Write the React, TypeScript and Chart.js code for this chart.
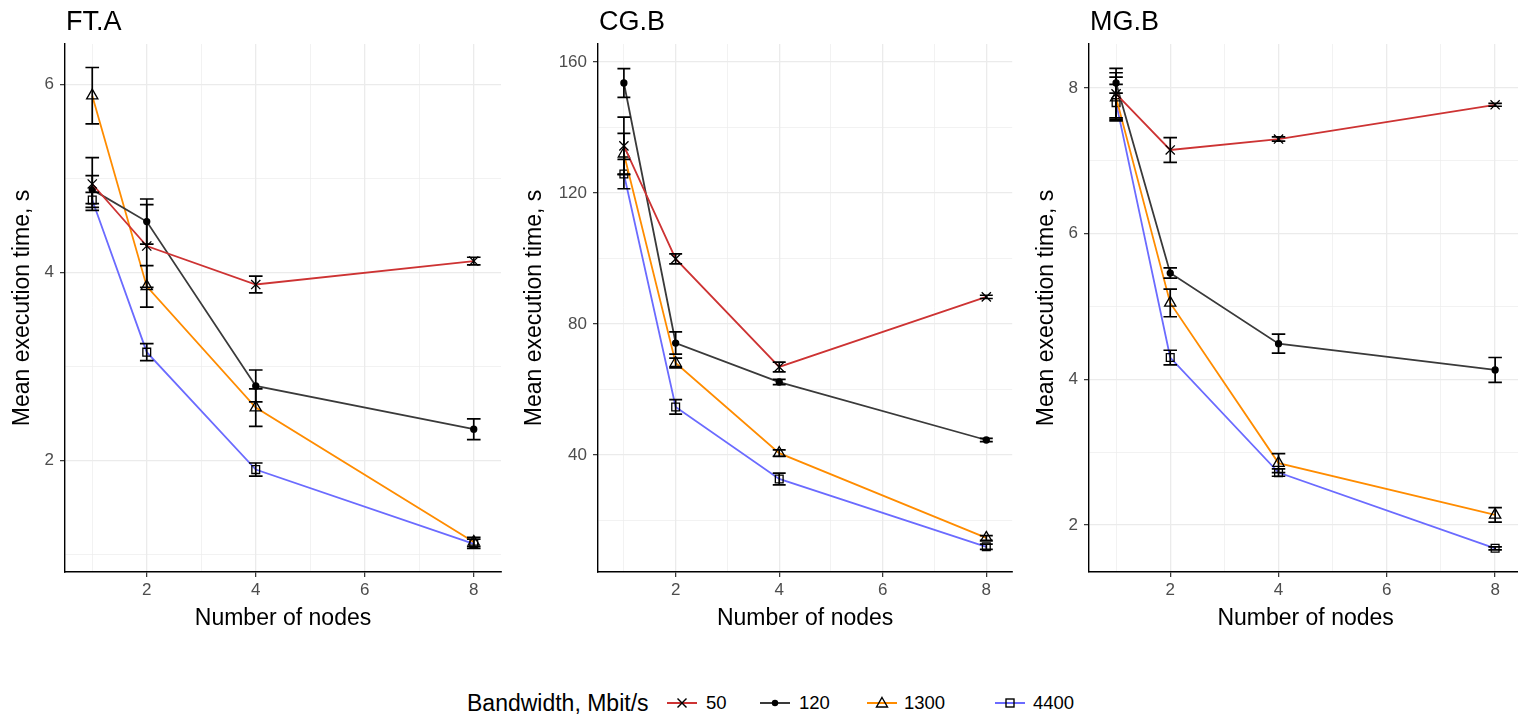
import React, { useEffect, useRef } from 'react';
import { Chart, registerables } from 'chart.js';

Chart.register(...registerables);

// ---------- data ----------
const nodes = [1, 2, 4, 8];
const bandwidthLabels = ['50', '120', '1300', '4400'];
const seriesColors = ['#cd3333', '#3a3a3a', '#ff8c00', '#6b6bff'];

const xTicksAll = [1, 2, 3, 4, 5, 6, 7, 8];
const xTicksMajor = [2, 4, 6, 8];

// FT.A
const ftA_50 = [4.94, 4.28, 3.87, 4.12];
const ftA_50_err = [0.28, 0.44, 0.09, 0.04];
const ftA_120 = [4.88, 4.54, 2.79, 2.33];
const ftA_120_err = [0.15, 0.24, 0.17, 0.11];
const ftA_1300 = [5.88, 3.85, 2.56, 1.13];
const ftA_1300_err = [0.3, 0.22, 0.2, 0.05];
const ftA_4400 = [4.77, 3.15, 1.9, 1.11];
const ftA_4400_err = [0.08, 0.09, 0.07, 0.05];
const ftA_yTicks = [1, 2, 3, 4, 5, 6];
const ftA_yMajor = [2, 4, 6];

// CG.B
const cgB_50 = [134.4, 99.9, 66.9, 88.3];
const cgB_50_err = [8.8, 1.5, 1.5, 0.5];
const cgB_120 = [153.6, 74.2, 62.3, 44.6];
const cgB_120_err = [4.4, 3.4, 0.8, 0.5];
const cgB_1300 = [132.0, 68.1, 40.6, 14.7];
const cgB_1300_err = [6.2, 1.5, 1.0, 0.7];
const cgB_4400 = [125.8, 54.7, 32.7, 12.0];
const cgB_4400_err = [4.5, 2.2, 1.8, 0.8];
const cgB_yTicks = [20, 40, 60, 80, 100, 120, 140, 160];
const cgB_yMajor = [40, 80, 120, 160];

// MG.B
const mgB_50 = [7.92, 7.15, 7.3, 7.77];
const mgB_50_err = [0.35, 0.17, 0.03, 0.02];
const mgB_120 = [8.07, 5.46, 4.49, 4.13];
const mgB_120_err = [0.14, 0.07, 0.13, 0.17];
const mgB_1300 = [7.87, 5.05, 2.85, 2.14];
const mgB_1300_err = [0.28, 0.19, 0.13, 0.1];
const mgB_4400 = [7.8, 4.3, 2.72, 1.68];
const mgB_4400_err = [0.25, 0.1, 0.05, 0.02];
const mgB_yTicks = [2, 3, 4, 5, 6, 7, 8];
const mgB_yMajor = [2, 4, 6, 8];

// ---------- styling ----------
const FONT = '"Liberation Sans", Arial, Helvetica, sans-serif';
const pointStyles = ['crossRot', 'circle', 'triangle', 'rect'];
const pointRadii = [6.5, 3, 6.5, 5.5];
const pointFills = ['rgba(0,0,0,0)', '#000', 'rgba(0,0,0,0)', 'rgba(0,0,0,0)'];

type Panel = {
  title: string;
  means: number[][];
  errs: number[][];
  yMin: number;
  yMax: number;
  yTicks: number[];
  yMajor: number[];
  left: number;
  yAxisWidth: number;
  padRight: number;
  yTitlePad: number;
};

const panels: Panel[] = [
  {
    title: 'FT.A',
    means: [ftA_50, ftA_120, ftA_1300, ftA_4400],
    errs: [ftA_50_err, ftA_120_err, ftA_1300_err, ftA_4400_err],
    yMin: 0.81, yMax: 6.43, yTicks: ftA_yTicks, yMajor: ftA_yMajor,
    left: 0, yAxisWidth: 65, padRight: 9, yTitlePad: 9,
  },
  {
    title: 'CG.B',
    means: [cgB_50, cgB_120, cgB_1300, cgB_4400],
    errs: [cgB_50_err, cgB_120_err, cgB_1300_err, cgB_4400_err],
    yMin: 4.3, yMax: 165.5, yTicks: cgB_yTicks, yMajor: cgB_yMajor,
    left: 510, yAxisWidth: 88, padRight: 7, yTitlePad: 11,
  },
  {
    title: 'MG.B',
    means: [mgB_50, mgB_120, mgB_1300, mgB_4400],
    errs: [mgB_50_err, mgB_120_err, mgB_1300_err, mgB_4400_err],
    yMin: 1.355, yMax: 8.605, yTicks: mgB_yTicks, yMajor: mgB_yMajor,
    left: 1020, yAxisWidth: 69, padRight: 5, yTitlePad: 13,
  },
];

const CANVAS_W = 510;
const CANVAS_H = 650;

const errorBarPlugin = {
  id: 'errorBars',
  afterDatasetsDraw(chart: any) {
    const { ctx } = chart;
    const xs = chart.scales.x;
    const ys = chart.scales.y;
    ctx.save();
    ctx.strokeStyle = '#000';
    ctx.lineWidth = 1.7;
    chart.data.datasets.forEach((ds: any) => {
      ds.data.forEach((p: any, i: number) => {
        const e = ds.errors[i];
        const x = xs.getPixelForValue(p.x);
        const x0 = xs.getPixelForValue(p.x - 0.125);
        const x1 = xs.getPixelForValue(p.x + 0.125);
        const yT = ys.getPixelForValue(p.y + e);
        const yB = ys.getPixelForValue(p.y - e);
        ctx.beginPath();
        ctx.moveTo(x0, yT); ctx.lineTo(x1, yT);
        ctx.moveTo(x, yT); ctx.lineTo(x, yB);
        ctx.moveTo(x0, yB); ctx.lineTo(x1, yB);
        ctx.stroke();
      });
    });
    ctx.restore();
  },
};

const panelTitlePlugin = {
  id: 'panelTitle',
  afterDraw(chart: any, _args: any, opts: any) {
    const { ctx, chartArea } = chart;
    ctx.save();
    ctx.fillStyle = '#000';
    ctx.font = `27px ${FONT}`;
    ctx.textAlign = 'left';
    ctx.textBaseline = 'alphabetic';
    ctx.fillText(opts.text, chartArea.left + 1, 30);
    ctx.restore();
  },
};

function PanelChart({ p }: { p: Panel }) {
  const ref = useRef<HTMLCanvasElement>(null);
  useEffect(() => {
    if (!ref.current) return;
    const datasets = bandwidthLabels.map((lab, s) => ({
      label: lab,
      data: nodes.map((n, i) => ({ x: n, y: p.means[s][i] })),
      errors: p.errs[s],
      borderColor: seriesColors[s],
      borderWidth: 1.8,
      tension: 0,
      pointStyle: pointStyles[s],
      pointRadius: pointRadii[s],
      pointHoverRadius: pointRadii[s],
      pointBorderColor: '#000',
      pointBackgroundColor: pointFills[s],
      pointBorderWidth: 1.3,
      fill: false,
    }));
    const chart = new Chart(ref.current, {
      type: 'line',
      data: { datasets } as any,
      options: {
        animation: false,
        responsive: false,
        devicePixelRatio: 1,
        layout: { padding: { left: 0, top: 44, right: p.padRight, bottom: 0 } },
        plugins: {
          legend: { display: false },
          tooltip: { enabled: false },
          panelTitle: { text: p.title },
        } as any,
        scales: {
          x: {
            type: 'linear',
            min: 0.5,
            max: 8.5,
            afterBuildTicks: (s: any) => {
              s.ticks = xTicksAll.map((v) => ({ value: v }));
            },
            afterFit: (s: any) => {
              s.height = 78;
            },
            ticks: {
              autoSkip: false,
              maxRotation: 0,
              padding: 3,
              color: '#4d4d4d',
              font: { size: 17, family: FONT },
              callback: (v: any) => (xTicksMajor.includes(Number(v)) ? String(v) : ''),
            },
            grid: {
              color: '#ebebeb',
              lineWidth: (c: any) => (xTicksMajor.includes(c.tick?.value) ? 1.3 : 0.65),
              tickColor: (c: any) => (xTicksMajor.includes(c.tick?.value) ? '#333' : 'rgba(0,0,0,0)'),
              tickLength: 5,
              tickWidth: 1.2,
            },
            border: { display: true, color: '#000', width: 1.4 },
            title: {
              display: true,
              text: 'Number of nodes',
              color: '#000',
              font: { size: 23, family: FONT },
              padding: { top: 0, bottom: 18 },
            },
          },
          y: {
            type: 'linear',
            min: p.yMin,
            max: p.yMax,
            afterBuildTicks: (s: any) => {
              s.ticks = p.yTicks.map((v) => ({ value: v }));
            },
            afterFit: (s: any) => {
              s.width = p.yAxisWidth;
            },
            ticks: {
              autoSkip: false,
              padding: 6,
              color: '#4d4d4d',
              font: { size: 17, family: FONT },
              callback: (v: any) => (p.yMajor.includes(Number(v)) ? String(v) : ''),
            },
            grid: {
              color: '#ebebeb',
              lineWidth: (c: any) => (p.yMajor.includes(c.tick?.value) ? 1.3 : 0.65),
              tickColor: (c: any) => (p.yMajor.includes(c.tick?.value) ? '#333' : 'rgba(0,0,0,0)'),
              tickLength: 5,
              tickWidth: 1.2,
            },
            border: { display: true, color: '#000', width: 1.4 },
            title: {
              display: true,
              text: 'Mean execution time, s',
              color: '#000',
              font: { size: 23, family: FONT },
              padding: { top: p.yTitlePad, bottom: 0 },
            },
          },
        },
      } as any,
      plugins: [errorBarPlugin, panelTitlePlugin],
    });
    return () => chart.destroy();
  }, [p]);
  return (
    <div style={{ position: 'absolute', left: p.left, top: 0, width: CANVAS_W, height: CANVAS_H }}>
      <canvas ref={ref} width={CANVAS_W} height={CANVAS_H} style={{ width: CANVAS_W, height: CANVAS_H, display: 'block' }} />
    </div>
  );
}

function LegendKey({ s }: { s: number }) {
  const c = seriesColors[s];
  let marker: React.ReactNode = null;
  if (s === 0) {
    marker = (
      <g stroke="#000" strokeWidth={1.4}>
        <line x1={10.5} y1={3.5} x2={19.5} y2={12.5} />
        <line x1={19.5} y1={3.5} x2={10.5} y2={12.5} />
      </g>
    );
  } else if (s === 1) {
    marker = <circle cx={15} cy={8} r={3.2} fill="#000" />;
  } else if (s === 2) {
    marker = <polygon points="15,2.5 20.5,12 9.5,12" fill="none" stroke="#000" strokeWidth={1.4} />;
  } else {
    marker = <rect x={11} y={4} width={8} height={8} fill="none" stroke="#000" strokeWidth={1.4} />;
  }
  return (
    <svg width={30} height={16} style={{ display: 'block' }}>
      <line x1={0} y1={8} x2={30} y2={8} stroke={c} strokeWidth={2} />
      {marker}
    </svg>
  );
}

const legendKeyX = [667, 760, 867, 995];
const legendTextX = [706, 799, 904, 1033];

export default function App() {
  return (
    <div style={{ position: 'absolute', left: 0, top: 0, width: 1518, height: 714, overflow: 'hidden', background: '#fff' }}>
      {panels.map((p) => (
        <PanelChart key={p.title} p={p} />
      ))}
      <div
        style={{
          position: 'absolute', left: 467, top: 690, fontFamily: FONT, fontSize: 23,
          lineHeight: '26px', color: '#000', whiteSpace: 'nowrap',
        }}
      >
        Bandwidth, Mbit/s
      </div>
      {bandwidthLabels.map((lab, s) => (
        <React.Fragment key={lab}>
          <div style={{ position: 'absolute', left: legendKeyX[s], top: 695 }}>
            <LegendKey s={s} />
          </div>
          <div
            style={{
              position: 'absolute', left: legendTextX[s], top: 692, fontFamily: FONT, fontSize: 18.5,
              lineHeight: '22px', color: '#000', whiteSpace: 'nowrap',
            }}
          >
            {lab}
          </div>
        </React.Fragment>
      ))}
    </div>
  );
}
